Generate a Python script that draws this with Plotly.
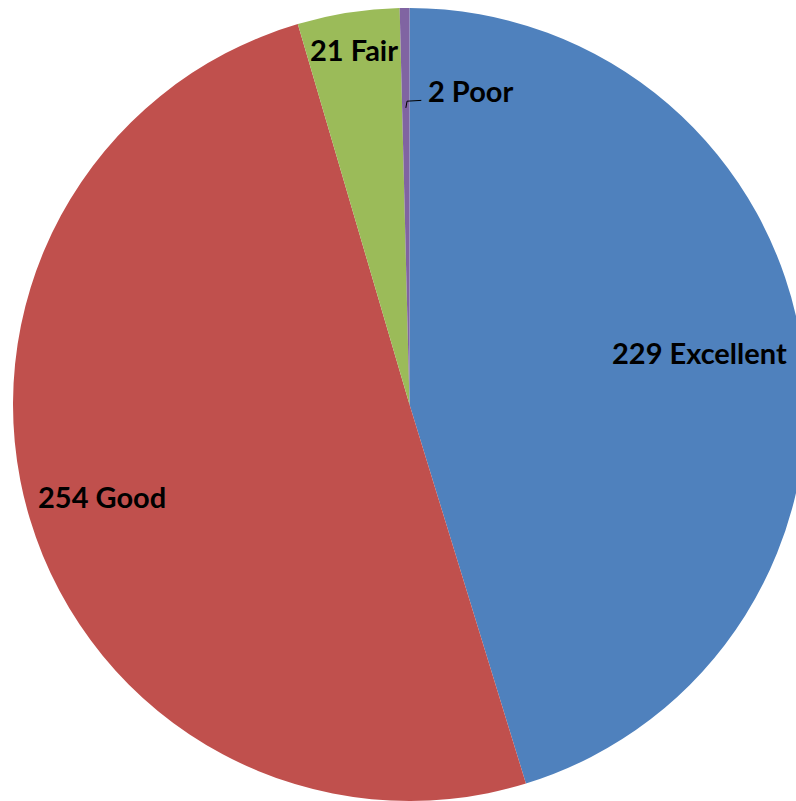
import math
import plotly.graph_objects as go

# ---- data ----
categories = ["Excellent", "Good", "Fair", "Poor"]
counts = [229, 254, 21, 2]
colors = ["#4F81BD", "#C0504D", "#9BBB59", "#8064A2"]

# label placement: fraction of radius and angular offset (deg) from each slice bisector
label_radius = [0.744, 0.81, 0.905, None]
label_angle_offset = [-1.6, 0.0, 0.0, None]

W, H = 806, 801
ML, MT = 13, 8
D = 793  # plot-area size (square)

fig = go.Figure(go.Pie(
    labels=categories,
    values=counts,
    sort=False,
    direction="clockwise",
    rotation=0,
    marker=dict(colors=colors, line=dict(width=0)),
    textinfo="none",
    hoverinfo="label+value",
    showlegend=False,
    domain=dict(x=[0, 1], y=[0, 1]),
))

total = sum(counts)
cum = 0.0
annotations = []
for cat, val, fr, off in zip(categories, counts, label_radius, label_angle_offset):
    mid = (cum + val / 2) / total * 2 * math.pi
    cum += val
    if fr is None:
        continue
    a = mid + math.radians(off)
    x = 0.5 + 0.5 * fr * math.sin(a)
    y = 0.5 + 0.5 * fr * math.cos(a)
    annotations.append(dict(
        x=x, y=y, xref="paper", yref="paper", text=f"{val} {cat}",
        showarrow=False, xanchor="center", yanchor="middle",
        font=dict(family="Lato", size=29, color="black", weight="bold"),
    ))

# Poor label: placed off the thin slice with a short leader line
poor_val = counts[3]
poor_mid = (total - poor_val / 2) / total * 2 * math.pi
px, py = 0.155, 0.791  # label offset from centre in radius units
annotations.append(dict(
    x=0.5 + 0.5 * px, y=0.5 + 0.5 * py, xref="paper", yref="paper",
    text=f"{poor_val} {categories[3]}", showarrow=False,
    xanchor="center", yanchor="middle",
    font=dict(family="Lato", size=29, color="black", weight="bold"),
))
r0 = 0.748
sx = 0.5 + 0.5 * r0 * math.sin(poor_mid)
sy = 0.5 + 0.5 * r0 * math.cos(poor_mid)
path = (f"M {sx:.4f} {sy:.4f} L {sx + 0.0015:.4f} {sy + 0.0085:.4f} "
        f"L {sx + 0.0195:.4f} {sy + 0.0095:.4f}")

fig.update_layout(
    width=W, height=H,
    margin=dict(l=ML, t=MT, r=W - ML - D, b=H - MT - D, pad=0),
    paper_bgcolor="white",
    plot_bgcolor="white",
    annotations=annotations,
    shapes=[dict(type="path", path=path, xref="paper", yref="paper",
                 line=dict(color="black", width=1))],
)

fig.write_html(
    "out.html",
    config={"displayModeBar": False},
    post_script="document.body.style.margin='0';document.body.style.overflow='hidden';",
)
